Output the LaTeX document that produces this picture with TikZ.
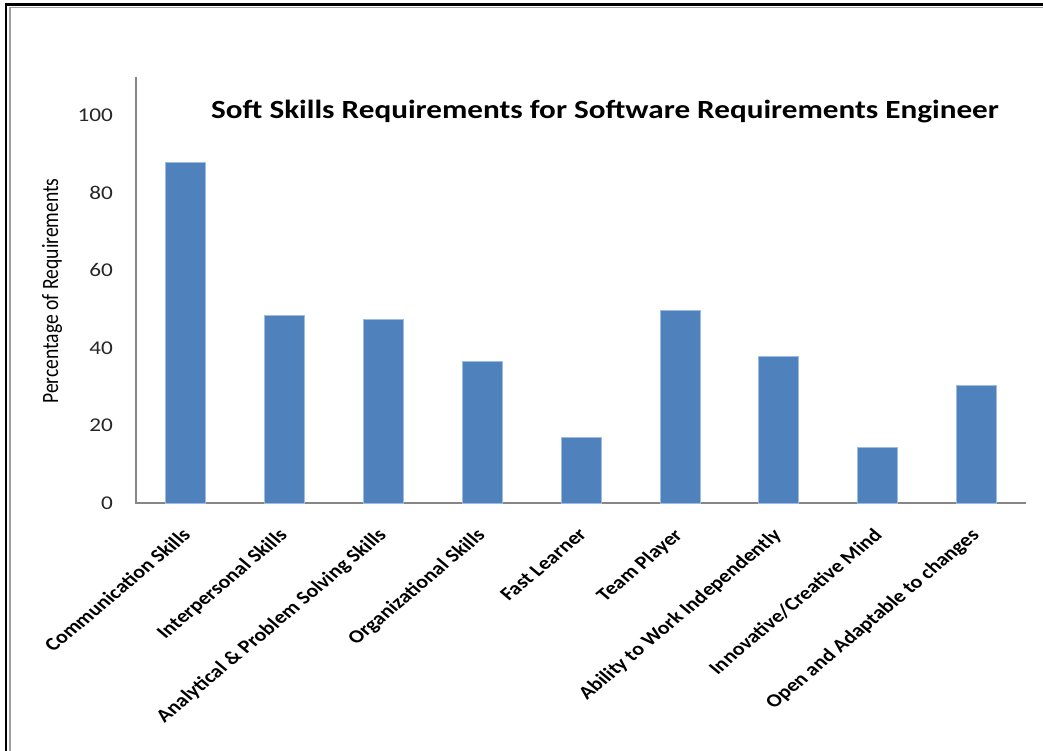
\documentclass[tikz,border=0pt]{standalone}
\usepackage{fontspec}
\setmainfont{Carlito}
\usepackage{graphicx}
\usepackage{tikz}
\usetikzlibrary{positioning}

\definecolor{barblue}{HTML}{4F81BD}
\definecolor{baredge}{HTML}{9DBCE3}
\definecolor{axisgray}{HTML}{868686}
\definecolor{framegray}{HTML}{A0A0A0}

% the chart's text is drawn a little wider than high
\newcommand{\widen}[1]{\scalebox{1.19}[1]{#1}}

\begin{document}
\begin{tikzpicture}[x=1pt,y=-1pt]
      \tikzstyle{bar} = [fill=barblue, draw=baredge, line width=0.8pt]
      \tikzstyle{ticklab} = [anchor=east, inner sep=0pt, text=black!85, font=\fontsize{19.5}{19.5}\selectfont]
      \tikzstyle{catlab} = [anchor=north east, inner sep=0pt, font=\bfseries\fontsize{18.5}{18.5}\selectfont]
      \useasboundingbox (0,0) rectangle (1043,751);
      % frame
      \draw [line width=2.4pt] (6,751)--(6,4.6)--(1043,4.6);
      \draw [framegray, line width=1.4pt] (10,751)--(10,7.6)--(1043,7.6);
      % axes
      \coordinate (o) at (136,503);
      \coordinate (ytop) at (136,77);
      \coordinate (xend) at (1026,503);
      \draw [axisgray, line width=1.2pt] (ytop)--(o)--(xend);
      % value axis
      \node (t0) [ticklab] at (113,503) {\widen{0}};
      \node (t20) [ticklab] at (113,425.4) {\widen{20}};
      \node (t40) [ticklab] at (113,347.8) {\widen{40}};
      \node (t60) [ticklab] at (113,270.2) {\widen{60}};
      \node (t80) [ticklab] at (113,192.6) {\widen{80}};
      \node (t100) [ticklab] at (113,115) {\widen{100}};
      \node (ylab) [inner sep=0pt, font=\fontsize{19.6}{19.6}\selectfont] at (52,291) {\widen{\rotatebox{90}{Percentage of Requirements}}};
      % title
      \node (title) [font=\bfseries\fontsize{26.2}{26.2}\selectfont] at (605,112) {\widen{Soft Skills Requirements for Software Requirements Engineer}};
      % bars
      \draw [bar] (165.4,503) rectangle (205.4,162.3);
      \draw [bar] (264.3,503) rectangle (304.3,315.2);
      \draw [bar] (363.2,503) rectangle (403.2,319.5);
      \draw [bar] (462.1,503) rectangle (502.1,361);
      \draw [bar] (561,503) rectangle (601,437);
      \draw [bar] (659.9,503) rectangle (699.9,310.2);
      \draw [bar] (758.8,503) rectangle (798.8,356.7);
      \draw [bar] (857.7,503) rectangle (897.7,447.1);
      \draw [bar] (956.6,503) rectangle (996.6,385.8);
      % category labels
      \node (c1) [catlab] at (192,527) {\widen{\rotatebox{45}{Communication Skills}}};
      \node (c2) [catlab] at (291,527) {\widen{\rotatebox{45}{Interpersonal Skills}}};
      \node (c3) [catlab] at (390,527) {\widen{\rotatebox{45}{Analytical \& Problem Solving Skills}}};
      \node (c4) [catlab] at (489,527) {\widen{\rotatebox{45}{Organizational Skills}}};
      \node (c5) [catlab] at (588,527) {\widen{\rotatebox{45}{Fast Learner}}};
      \node (c6) [catlab] at (686,527) {\widen{\rotatebox{45}{Team Player}}};
      \node (c7) [catlab] at (785,527) {\widen{\rotatebox{45}{Ability to Work Independently}}};
      \node (c8) [catlab] at (884,527) {\widen{\rotatebox{45}{Innovative/Creative Mind}}};
      \node (c9) [catlab] at (983,527) {\widen{\rotatebox{45}{Open and Adaptable to changes}}};
    \end{tikzpicture}
\end{document}
